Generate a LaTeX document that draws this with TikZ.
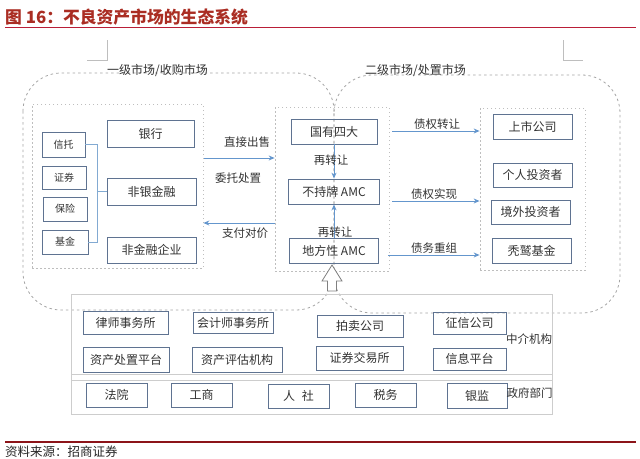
\documentclass[tikz,border=0pt]{standalone}
\usepackage{fontspec}
\setmainfont{Noto Sans CJK SC}
\usetikzlibrary{arrows.meta}
\definecolor{boxc}{RGB}{95,115,145}
\definecolor{arrc}{RGB}{100,150,205}
\definecolor{brc}{RGB}{130,170,210}
\definecolor{txt}{RGB}{50,50,50}
\definecolor{dashc}{RGB}{165,165,165}
\definecolor{inc}{RGB}{190,190,190}
\definecolor{outc}{RGB}{205,205,205}
\definecolor{titc}{RGB}{170,45,35}
\definecolor{toprule}{RGB}{185,30,55}
\definecolor{botrule}{RGB}{140,20,25}
\tikzset{
  bx/.style={draw=boxc, line width=0.8pt, inner sep=0pt, text=txt, font=\fontsize{12}{14}\selectfont},
  sbx/.style={bx, font=\fontsize{10}{12}\selectfont},
  inbox/.style={draw=inc, line width=0.8pt, dash pattern=on 1.5pt off 2.5pt, inner sep=0pt},
  bigdash/.style={draw=dashc, line width=0.8pt, dash pattern=on 2.5pt off 3pt},
  lbl/.style={text=txt, inner sep=0pt, font=\fontsize{11.5}{13}\selectfont},
  arr/.style={draw=arrc, line width=1pt, -{Stealth[length=6pt,width=5pt]}},
  brk/.style={draw=brc, line width=0.8pt},
  cornermark/.style={draw=inc, line width=0.8pt}
}
\begin{document}
\begin{tikzpicture}[x=1pt,y=-1pt]
\useasboundingbox (0,0) rectangle (640,458);
% title
\node[anchor=west, inner sep=0pt, text=titc, font=\fontsize{16.8}{18}\selectfont\bfseries] (title) at (5,17) {图 16：不良资产市场的生态系统};
\draw[toprule, line width=1pt] (5,27) -- (636,27);
% corner marks
\draw[cornermark] (107,40) -- (107,60) -- (87,60);
\draw[cornermark] (563,40) -- (563,60) -- (583,60);
% big dashed areas
\draw[bigdash, rounded corners=38] (23,73) rectangle (334,310);
\draw[bigdash, rounded corners=38] (334,75) rectangle (620,313);
\node[lbl, anchor=west, font=\fontsize{12}{14}\selectfont] (prim) at (107,70) {一级市场/收购市场};
\node[lbl, anchor=west, font=\fontsize{12}{14}\selectfont] (sec) at (365,70) {二级市场/处置市场};
% inner dashed boxes
\node[inbox, minimum width=171, minimum height=164] (L) at (117.5,186) {};
\node[inbox, minimum width=114, minimum height=164] (M) at (332,189) {};
\node[inbox, minimum width=105, minimum height=162] (R) at (532.5,189) {};
% left small boxes
\node[sbx, minimum width=43, minimum height=25] (xt) at (63.5,144.5) {信托};
\node[sbx, minimum width=44, minimum height=23] (zq) at (64,177.5) {证券};
\node[sbx, minimum width=44, minimum height=24] (bxn) at (65,209) {保险};
\node[sbx, minimum width=46, minimum height=24] (jj) at (65,242) {基金};
% center column
\node[bx, minimum width=87, minimum height=27] (yh) at (150.5,133.5) {银行};
\node[bx, minimum width=89, minimum height=27] (fyjr) at (151.5,191.5) {非银金融};
\node[bx, minimum width=89, minimum height=26] (fjrqy) at (151.5,250) {非金融企业};
% bracket
\coordinate (br) at (97,191.5);
\draw[brk] (xt.east) -| (br);
\draw[brk] (jj.east) -| (br);
\draw[brk] (br) -- (fyjr.west);
% middle column
\node[bx, minimum width=86, minimum height=25] (gy) at (334,131.5) {国有四大};
\node[bx, minimum width=91, minimum height=25] (bcp) at (334,191.5) {不持牌 AMC};
\node[bx, minimum width=89, minimum height=25] (dfx) at (334,250.5) {地方性 AMC};
% right column
\node[bx, minimum width=79, minimum height=25] (ss) at (532.5,126.5) {上市公司};
\node[bx, minimum width=79, minimum height=24] (gr) at (532.5,175) {个人投资者};
\node[bx, minimum width=79, minimum height=24] (jw) at (530.5,212) {境外投资者};
\node[bx, minimum width=79, minimum height=25] (tj) at (531.5,250.5) {秃鹫基金};
% left arrows
\coordinate (c1) at (204,158);
\coordinate (c2) at (275,223);
\draw[arr] (c1) -- (c1 -| M.west);
\draw[arr] (c2) -- (c2 -| L.east);
\node[lbl] (l1) at (247,142) {直接出售};
\node[lbl] (l2) at (238,178) {委托处置};
\node[lbl] (l3) at (245,233) {支付对价};
% vertical arrows
\draw[arr] (gy.south) -- (bcp.north);
\draw[arr] (dfx.north) -- (bcp.south);
\node[lbl] (z1) at (331,160) {再转让};
\node[lbl] (z2) at (335,232) {再转让};
% right arrows
\coordinate (r1) at (392,131);
\coordinate (r2) at (392,201);
\coordinate (r3) at (388,255);
\draw[arr] (r1) -- (r1 -| R.west);
\draw[arr] (r2) -- (r2 -| R.west);
\draw[arr] (r3) -- (r3 -| R.west);
\node[lbl] (q1) at (437,124) {债权转让};
\node[lbl] (q2) at (434,194) {债权实现};
\node[lbl] (q3) at (434,248) {债务重组};
% hollow arrow
\draw[draw=black!50, fill=white, line width=0.8pt] (332,265) -- (342,281) -- (336.5,281) -- (336.5,291) -- (327.5,291) -- (327.5,281) -- (322,281) -- cycle;
% bottom frames
\draw[outc, line width=0.8pt] (71,294) rectangle (552,380);
\draw[outc, line width=0.8pt] (71,374) rectangle (552,414);
% intermediaries
\node[bx, minimum width=85, minimum height=23] (lsws) at (125.5,322.5) {律师事务所};
\node[bx, minimum width=80, minimum height=21] (kjs) at (233,322.5) {会计师事务所};
\node[bx, minimum width=86, minimum height=22] (pm) at (360,326) {拍卖公司};
\node[bx, minimum width=73, minimum height=22] (zx) at (469.5,323) {征信公司};
\node[bx, minimum width=86, minimum height=25] (zccz) at (126,359.5) {资产处置平台};
\node[bx, minimum width=90, minimum height=25] (zcpg) at (237,359.5) {资产评估机构};
\node[bx, minimum width=87, minimum height=24] (zqjy) at (359.5,358) {证券交易所};
\node[bx, minimum width=73, minimum height=22] (xx) at (469.5,359) {信息平台};
\node[lbl] (zj) at (529,339) {中介机构};
% government
\node[bx, minimum width=61, minimum height=24] (fy) at (116.5,395) {法院};
\node[bx, minimum width=61, minimum height=24] (gs) at (201.5,395) {工商};
\node[bx, minimum width=61, minimum height=24] (rs) at (298.5,396) {人\hspace{7pt}社};
\node[bx, minimum width=61, minimum height=24] (sw) at (385.5,395) {税务};
\node[bx, minimum width=60, minimum height=25] (yj) at (477,395.5) {银监};
\node[lbl] (zf) at (529.5,393) {政府部门};
% footer
\draw[botrule, line width=1.6pt] (5,442) -- (636,442);
\node[anchor=west, inner sep=0pt, text=black!85, font=\fontsize{12.5}{14}\selectfont] (src) at (5,452) {资料来源：招商证券};
\end{tikzpicture}
\end{document}
